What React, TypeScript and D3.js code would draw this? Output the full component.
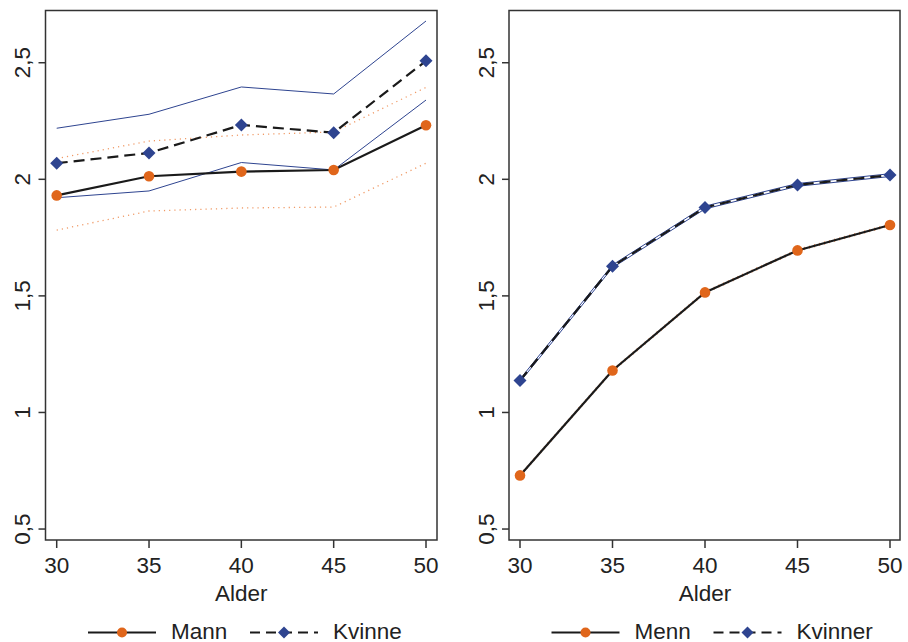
import React from 'react';
import * as d3 from 'd3';

// ages on x axis
const ages = [30, 35, 40, 45, 50];
const yTicks = [0.5, 1, 1.5, 2, 2.5];

// left panel
const mann = [1.931, 2.013, 2.033, 2.04, 2.232];
const mannLo = [1.782, 1.864, 1.877, 1.881, 2.069];
const mannHi = [2.089, 2.164, 2.19, 2.203, 2.394];
const kvinne = [2.069, 2.113, 2.233, 2.2, 2.508];
const kvinneLo = [1.921, 1.95, 2.072, 2.04, 2.34];
const kvinneHi = [2.219, 2.279, 2.396, 2.366, 2.679];

// right panel
const menn = [0.73, 1.18, 1.515, 1.695, 1.804];
const mennLo = [0.726, 1.176, 1.511, 1.691, 1.8];
const mennHi = [0.734, 1.184, 1.519, 1.699, 1.808];
const kvinner = [1.137, 1.627, 1.879, 1.976, 2.018];
const kvinnerLo = [1.131, 1.621, 1.873, 1.97, 2.012];
const kvinnerHi = [1.143, 1.633, 1.885, 1.982, 2.024];

const ORANGE = '#e0661b';
const DOT = '#f09a66';
const BLUE = '#2e4490';
const INK = '#1a1a1a';
const FONT = '"Liberation Sans", Arial, sans-serif';

const W = 908;
const H = 642;
const top = 10.5;
const bottom = 540;

const y = d3.scaleLinear().domain([0.453, 2.724]).range([bottom, top]);

const diamond = (cx, cy, r) => `M${cx},${cy - r}L${cx + r},${cy}L${cx},${cy + r}L${cx - r},${cy}Z`;

const Panel = ({ left, right, x0, x1, m, mLo, mHi, k, kLo, kHi, labels }) => {
  const x = d3.scaleLinear().domain([30, 50]).range([x0, x1]);
  const line = (vals) =>
    d3.line<number>().x((_, i) => x(ages[i])).y((d) => y(d))(vals);
  const legY = 632.5;
  const lx = left + 42.5;
  return (
    <g>
      {/* confidence bands */}
      <path d={line(mLo)} fill="none" stroke={DOT} strokeWidth={1.3} strokeDasharray="1.2,4" />
      <path d={line(mHi)} fill="none" stroke={DOT} strokeWidth={1.3} strokeDasharray="1.2,4" />
      <path d={line(kLo)} fill="none" stroke={BLUE} strokeWidth={1} />
      <path d={line(kHi)} fill="none" stroke={BLUE} strokeWidth={1} />
      {/* main lines */}
      <path d={line(m)} fill="none" stroke={INK} strokeWidth={2.2} />
      <path d={line(k)} fill="none" stroke={INK} strokeWidth={2.2} strokeDasharray="11,6" />
      {m.map((v, i) => (
        <circle key={'m' + i} cx={x(ages[i])} cy={y(v)} r={5.3} fill={ORANGE} />
      ))}
      {k.map((v, i) => (
        <path key={'k' + i} d={diamond(x(ages[i]), y(v), 6.5)} fill={BLUE} />
      ))}
      {/* frame */}
      <rect x={left} y={top} width={right - left} height={bottom - top} fill="none" stroke="#333" strokeWidth={1.5} />
      {yTicks.map((t) => (
        <g key={t}>
          <line x1={left - 7} x2={left} y1={y(t)} y2={y(t)} stroke="#333" strokeWidth={1.5} />
          <text
            transform={`translate(${left - 15.5},${y(t)}) rotate(-90)`}
            textAnchor="middle"
            fontSize={22.5}
            fontFamily={FONT}
            fill="#222"
          >
            {String(t).replace('.', ',')}
          </text>
        </g>
      ))}
      {ages.map((a) => (
        <g key={a}>
          <line x1={x(a)} x2={x(a)} y1={bottom} y2={bottom + 8} stroke="#333" strokeWidth={1.5} />
          <text x={x(a)} y={572.5} textAnchor="middle" fontSize={22.5} fontFamily={FONT} fill="#222">
            {a}
          </text>
        </g>
      ))}
      <text x={x(40)} y={600.5} textAnchor="middle" fontSize={22.5} fontFamily={FONT} fill="#222">
        Alder
      </text>
      {/* legend */}
      <line x1={lx} x2={lx + 68} y1={legY} y2={legY} stroke={INK} strokeWidth={2} />
      <circle cx={lx + 34} cy={legY} r={5} fill={ORANGE} />
      <text x={lx + 83} y={639} fontSize={22.5} fontFamily={FONT} fill="#222">
        {labels[0]}
      </text>
      <line x1={lx + 162} x2={lx + 230} y1={legY} y2={legY} stroke={INK} strokeWidth={2} strokeDasharray="10,6" />
      <path d={diamond(lx + 196, legY, 6)} fill={BLUE} />
      <text x={lx + 245} y={639} fontSize={22.5} fontFamily={FONT} fill="#222">
        {labels[1]}
      </text>
    </g>
  );
};

export default function App() {
  return (
    <svg width={W} height={H} style={{ position: 'fixed', left: 0, top: 0, display: 'block', background: '#fff' }}>
      <rect width={W} height={H} fill="#fff" />
      <Panel
        left={45.5}
        right={437}
        x0={56.7}
        x1={426}
        m={mann}
        mLo={mannLo}
        mHi={mannHi}
        k={kvinne}
        kLo={kvinneLo}
        kHi={kvinneHi}
        labels={['Mann', 'Kvinne']}
      />
      <Panel
        left={509}
        right={900}
        x0={520}
        x1={890}
        m={menn}
        mLo={mennLo}
        mHi={mennHi}
        k={kvinner}
        kLo={kvinnerLo}
        kHi={kvinnerHi}
        labels={['Menn', 'Kvinner']}
      />
    </svg>
  );
}
